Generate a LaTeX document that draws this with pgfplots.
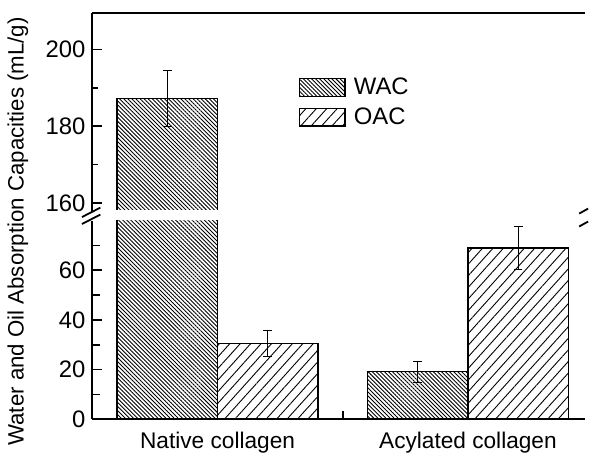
\documentclass[border=0pt]{standalone}
\usepackage{pgfplots}
\usepackage{pgfplotstable}
\pgfplotsset{compat=1.18}
\usepackage{fontspec}
\setmainfont{Liberation Sans}
\usetikzlibrary{patterns.meta}

\pgfplotstableread{
x wac wacerr oac oacerr
1 187.2 7.3 30.5 5.3
2 19.2 4.2 69.0 8.6
}\datatable

\tikzset{
  wacstyle/.style={draw=black, line width=0.75pt, pattern={Lines[angle=-45,distance=1.45pt,line width=0.45pt]}},
  oacstyle/.style={draw=black, line width=0.75pt, pattern={Lines[angle=48,distance=3.9pt,line width=0.45pt]}},
}

\pgfplotsset{
  boxlegend/.style={legend image code/.code={\draw[##1] (0pt,-4.5pt) rectangle (23pt,4.5pt);}},
  common/.style={
    scale only axis, width=248pt, height=100pt,
    xmin=0.5, xmax=2.468,
    ybar=0pt, bar width=50.5pt,
    axis line style={-, line width=1pt},
    tick style={line width=0.8pt, black},
    tick align=inside,
    major tick length=5pt, minor tick length=3pt,
    tick label style={font=\fontsize{12}{14}\selectfont},
    /pgf/number format/assume math mode=true,
    clip=true,
    error bars/error bar style={line width=0.45pt, black},
    error bars/error mark options={rotate=90, mark size=2.2pt, line width=0.45pt, black},
  },
}

\begin{document}
\begin{tikzpicture}
\begin{scope}[x=0.5pt,y=-0.5pt,shift={(0,-455)}]
\useasboundingbox (0,0) rectangle (589,455);
\end{scope}

% lower axis
\begin{axis}[common,
  at={(46.5pt,16.5pt)}, anchor=south west,
  ymin=0, ymax=80,
  axis x line*=bottom, axis y line*=left,
  ytick={0,20,40,60}, minor ytick={10,30,50,70},
  xtick={1,2}, xticklabels={Native collagen, Acylated collagen},
  minor xtick={1.5},
  x tick label style={font=\fontsize{11.4}{13}\selectfont, yshift=-3pt},
  xtick style={draw=none},
  minor x tick style={draw=black, line width=0.8pt},
  minor tick length=4pt,
]
\addplot[wacstyle, error bars/.cd, y dir=both, y explicit] table[x=x, y=wac, y error=wacerr] {\datatable};
\addplot[oacstyle, error bars/.cd, y dir=both, y explicit] table[x=x, y=oac, y error=oacerr] {\datatable};
\end{axis}

% upper axis
\begin{axis}[common,
  at={(46.5pt,121pt)}, anchor=south west,
  ymin=157.7, ymax=209.6,
  axis x line*=top, axis y line*=left,
  ytick={160,180,200}, minor ytick={170,190},
  xtick=\empty, xticklabels={},
  legend style={at={(0.418,0.69)}, anchor=north west, draw=none, fill=none,
    inner sep=0pt, row sep=2pt, column sep=2.5pt,
    font=\fontsize{12}{14}\selectfont,
    nodes={inner sep=1.5pt}},
  legend cell align=left,
]
\addplot[wacstyle, bar shift=-25.25pt, restrict x to domain=0.9:1.1, forget plot,
  error bars/.cd, y dir=both, y explicit] table[x=x, y=wac, y error=wacerr] {\datatable};
\addlegendimage{wacstyle, boxlegend}
\addlegendentry{WAC}
\addlegendimage{oacstyle, boxlegend}
\addlegendentry{OAC}
\end{axis}

\begin{scope}[x=0.5pt,y=-0.5pt,shift={(0,-455)}]
% white gap of the axis break
\fill[white] (95,211.6) rectangle (589,220.6);
% left break marks
\draw[line width=0.9pt] (82.5,218.5) -- (101,209);
\draw[line width=0.9pt] (82.5,225.5) -- (101,216);
% right partial break marks
\draw[line width=0.9pt] (583,215) -- (592,210);
\draw[line width=0.9pt] (583,228) -- (592,223);
% y label
\node[rotate=90, font=\fontsize{11.2}{13}\selectfont] at (18,233) {Water and Oil Absorption Capacities (mL/g)};
\end{scope}
\end{tikzpicture}
\end{document}
